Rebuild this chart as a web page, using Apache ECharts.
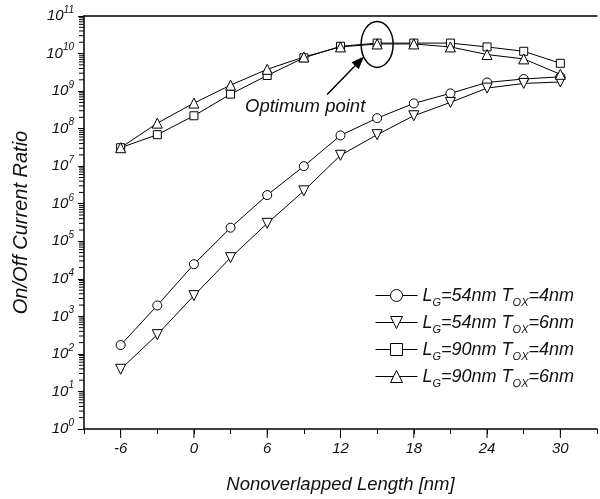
<!DOCTYPE html>
<html>
<head>
<meta charset="utf-8">
<script src="https://cdn.jsdelivr.net/npm/echarts@6/dist/echarts.min.js"></script>
<style>
  html, body { margin: 0; padding: 0; background: #fff; }
  #chart { width: 600px; height: 499px; }
</style>
</head>
<body>
<div id="chart"></div>
<script>
  // data
  const xValues = [-6, -3, 0, 3, 6, 9, 12, 15, 18, 21, 24, 27, 30];
  const lg54Tox4 = [172, 1950, 24500, 2.3e5, 1.7e6, 1.0e7, 6.6e7, 1.9e8, 4.7e8, 8.7e8, 1.7e9, 2.1e9, 2.4e9];
  const lg54Tox6 = [39, 326, 3570, 36600, 3.0e5, 2.2e6, 1.95e7, 6.9e7, 2.2e8, 5.0e8, 1.2e9, 1.6e9, 1.75e9];
  const lg90Tox4 = [3.1e7, 6.9e7, 2.2e8, 8.3e8, 2.6e9, 7.7e9, 1.56e10, 1.9e10, 1.9e10, 1.9e10, 1.5e10, 1.15e10, 5.5e9];
  const lg90Tox6 = [3.1e7, 1.4e8, 4.8e8, 1.44e9, 3.8e9, 8.1e9, 1.5e10, 1.8e10, 1.8e10, 1.5e10, 9.4e9, 7.2e9, 2.8e9];

  const seriesNames = ['LG=54nm TOX=4nm', 'LG=54nm TOX=6nm', 'LG=90nm TOX=4nm', 'LG=90nm TOX=6nm'];
  const legendLabels = [
    'L{sub|G}=54nm T{sub|OX}=4nm',
    'L{sub|G}=54nm T{sub|OX}=6nm',
    'L{sub|G}=90nm T{sub|OX}=4nm',
    'L{sub|G}=90nm T{sub|OX}=6nm'
  ];

  // axis ticks
  const xMajorTicks = [-6, 0, 6, 12, 18, 24, 30];
  const yMinorTicks = [];
  for (let n = 0; n < 11; n++) {
    for (let k = 2; k <= 9; k++) yMinorTicks.push(k * Math.pow(10, n));
  }

  const FONT = '"Liberation Sans", Arial, sans-serif';
  const chart = echarts.init(document.getElementById('chart'));

  function lineSeries(name, values, symbol, size, rotate) {
    return {
      name: name,
      type: 'line',
      data: xValues.map((x, i) => [x, values[i]]),
      symbol: symbol,
      symbolSize: size,
      symbolRotate: rotate || 0,
      showAllSymbol: true,
      lineStyle: { color: '#000', width: 1 },
      itemStyle: { color: '#fff', borderColor: '#000', borderWidth: 1 },
      emphasis: { disabled: true },
      z: 3
    };
  }

  const option = {
    backgroundColor: '#fff',
    animation: false,
    grid: { left: 84, top: 16, right: -2, bottom: 66 },
    xAxis: [
      {
        type: 'value',
        min: -9,
        max: 33,
        interval: 3,
        name: 'Nonoverlapped Length [nm]',
        nameLocation: 'middle',
        nameGap: 46,
        nameTextStyle: { fontFamily: FONT, fontStyle: 'italic', fontSize: 18.5, color: '#111' },
        axisLine: { onZero: false, lineStyle: { color: '#000', width: 1.5 } },
        axisTick: { length: 5, lineStyle: { color: '#000', width: 1 } },
        axisLabel: {
          margin: 12,
          fontFamily: FONT, fontStyle: 'italic', fontSize: 15, color: '#111',
          formatter: v => (Math.round(v) % 6 === 0 ? String(Math.round(v)) : '')
        },
        splitLine: { show: false }
      },
      {
        type: 'value',
        position: 'top',
        min: -9,
        max: 33,
        axisLine: { show: true, onZero: false, lineStyle: { color: '#000', width: 1.5 } },
        axisTick: { show: false },
        axisLabel: { show: false },
        splitLine: { show: false }
      }
    ],
    yAxis: {
      type: 'log',
      logBase: 10,
      min: 1,
      max: 1e11,
      interval: 1,
      name: 'On/Off Current Ratio',
      nameLocation: 'middle',
      nameGap: 53,
      nameTextStyle: { fontFamily: FONT, fontStyle: 'italic', fontSize: 20, color: '#111' },
      axisLine: { show: true, onZero: false, lineStyle: { color: '#000', width: 1.5 } },
      axisTick: { show: true, length: 6, lineStyle: { color: '#000', width: 1 } },
      axisLabel: {
        margin: 10,
        formatter: v => '{b|10}{sup|' + Math.round(Math.log10(v)) + '}',
        rich: {
          b: { fontFamily: FONT, fontStyle: 'italic', fontSize: 15, color: '#111', lineHeight: 22 },
          sup: { fontFamily: FONT, fontStyle: 'italic', fontSize: 10, color: '#111', verticalAlign: 'top', lineHeight: 12 }
        }
      },
      splitLine: { show: false }
    },
    legend: {
      data: seriesNames,
      orient: 'vertical',
      left: 375,
      top: 283,
      padding: 0,
      itemWidth: 42,
      itemHeight: 15,
      itemGap: 2,
      selectedMode: false,
      lineStyle: { width: 1, color: '#000' },
      itemStyle: { borderWidth: 1, borderColor: '#000', color: '#fff' },
      formatter: name => legendLabels[seriesNames.indexOf(name)],
      textStyle: {
        fontFamily: FONT, fontStyle: 'italic', fontSize: 18, color: '#111', lineHeight: 25,
        rich: {
          sub: { fontFamily: FONT, fontStyle: 'italic', fontSize: 11, color: '#111', verticalAlign: 'bottom', lineHeight: 12 }
        }
      }
    },
    series: [
      lineSeries(seriesNames[0], lg54Tox4, 'circle', 9),
      lineSeries(seriesNames[1], lg54Tox6, 'triangle', 10, 180),
      lineSeries(seriesNames[2], lg90Tox4, 'rect', 8),
      lineSeries(seriesNames[3], lg90Tox6, 'triangle', 10)
    ]
  };

  chart.setOption(option);

  const toPx = (x, y) => chart.convertToPixel({ xAxisIndex: 0, yAxisIndex: 0 }, [x, y]);
  const graphics = [];

  // longer ticks at labelled x values, short log ticks on the y axis
  const axisX = toPx(-9, 1)[0];
  xMajorTicks.forEach(x => {
    const p = toPx(x, 1);
    graphics.push({
      type: 'line', silent: true, z: 10,
      shape: { x1: p[0], y1: p[1], x2: p[0], y2: p[1] + 9 },
      style: { stroke: '#000', lineWidth: 1 }
    });
  });
  yMinorTicks.forEach(v => {
    const py = toPx(0, v)[1];
    graphics.push({
      type: 'rect', silent: true, z: 10,
      shape: { x: axisX - 5, y: py - 0.5, width: 5, height: 1 },
      style: { fill: '#000' }
    });
  });

  // "Optimum point" annotation, anchored to the data point at x = 15
  const c = toPx(15, 1.75e10);
  const tip = [c[0] - 13, c[1] + 12];
  const tail = [c[0] - 50, c[1] + 50];
  const dx = tip[0] - tail[0], dy = tip[1] - tail[1];
  const len = Math.sqrt(dx * dx + dy * dy);
  const ux = dx / len, uy = dy / len;
  const headL = 13, headW = 5;
  const base = [tip[0] - ux * headL, tip[1] - uy * headL];

  graphics.push(
    {
      type: 'ellipse',
      shape: { cx: c[0], cy: c[1], rx: 16, ry: 23 },
      style: { fill: 'none', stroke: '#000', lineWidth: 1.5 },
      z: 10
    },
    {
      type: 'line',
      shape: { x1: tail[0], y1: tail[1], x2: base[0], y2: base[1] },
      style: { stroke: '#000', lineWidth: 1.5 },
      z: 10
    },
    {
      type: 'polygon',
      shape: {
        points: [
          tip,
          [base[0] - uy * headW, base[1] + ux * headW],
          [base[0] + uy * headW, base[1] - ux * headW]
        ]
      },
      style: { fill: '#000' },
      z: 10
    },
    {
      type: 'text',
      x: c[0] - 72,
      y: c[1] + 62,
      style: {
        text: 'Optimum point',
        fontFamily: FONT, fontStyle: 'italic', fontSize: 18.5, fill: '#111',
        align: 'center', verticalAlign: 'middle'
      },
      z: 10
    }
  );

  chart.setOption({ graphic: graphics });
</script>
</body>
</html>
